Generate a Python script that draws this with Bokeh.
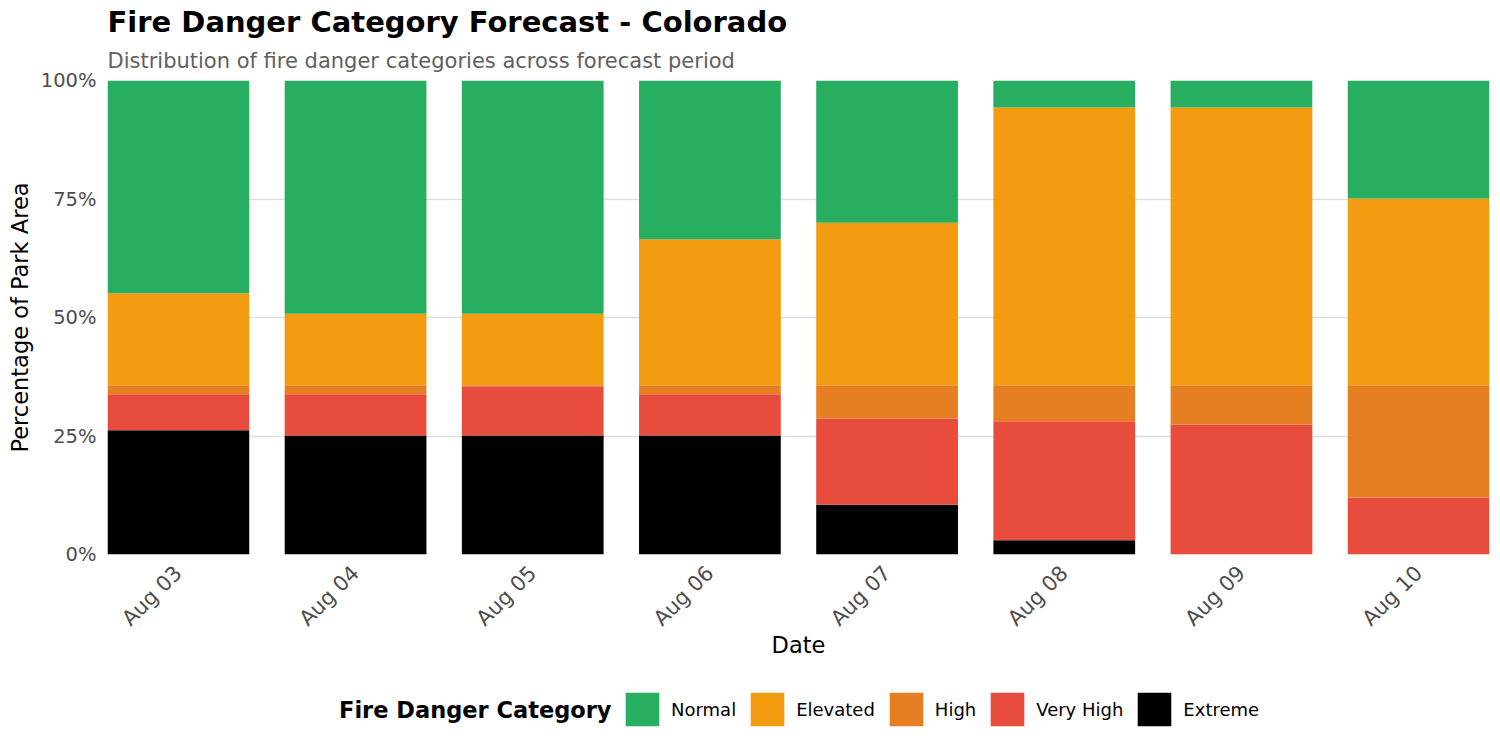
import math
from bokeh.plotting import figure
from bokeh.layouts import column
from bokeh.models import ColumnDataSource, Legend, LegendItem, Title, FixedTicker, Range1d, Label
from bokeh.embed import file_html
from bokeh.resources import INLINE

# Forecast data: percentage of park area in each fire danger category.
dates = ["Aug 03", "Aug 04", "Aug 05", "Aug 06", "Aug 07", "Aug 08", "Aug 09", "Aug 10"]
extreme = [26.2, 25.1, 25.1, 25.1, 10.5, 3.0, 0.0, 0.0]
very_high = [7.6, 8.7, 10.4, 8.7, 18.2, 25.1, 27.4, 12.0]
high = [1.9, 1.9, 0.2, 1.9, 7.0, 7.6, 8.3, 23.7]
elevated = [19.4, 15.1, 15.1, 30.8, 34.3, 58.6, 58.6, 39.4]
normal = [44.9, 49.2, 49.2, 33.5, 30.0, 5.7, 5.7, 24.9]

categories = ["Extreme", "Very High", "High", "Elevated", "Normal"]
colors = ["#000000", "#E74C3C", "#E67E22", "#F39C12", "#27AE60"]

source = ColumnDataSource(data=dict(
    x=list(range(1, len(dates) + 1)),
    Extreme=extreme,
    **{"Very High": very_high},
    High=high,
    Elevated=elevated,
    Normal=normal,
))

p = figure(width=1500, height=670, output_backend="svg", toolbar_location=None,
           x_range=Range1d(0.6, len(dates) + 0.4), y_range=Range1d(0, 100),
           title="Fire Danger Category Forecast - Colorado",
           x_axis_label="Date", y_axis_label="Percentage of Park Area")
p.min_border_left = 107
p.min_border_right = 11
p.min_border_bottom = 116
p.min_border_top = 80
p.outline_line_color = None

# Titles (main title on top, subtitle just above the plot)
p.title.text_font = "DejaVu Sans"
p.title.text_font_size = "29px"
p.title.text_font_style = "bold"
p.title.text_color = "#000000"
p.title.align = "left"
p.title.standoff = 0
p.add_layout(Title(text="Distribution of fire danger categories across forecast period",
                   text_font="DejaVu Sans", text_font_size="21px", text_font_style="normal",
                   text_color="#5f5f5f", align="left", standoff=16), "above")

renderers = p.vbar_stack(categories, x="x", width=0.8, source=source, color=colors,
                         line_color=None)

# Axes
p.xaxis.ticker = FixedTicker(ticks=list(range(1, len(dates) + 1)))
p.xaxis.major_label_overrides = {i + 1: d for i, d in enumerate(dates)}
p.xaxis.major_label_orientation = math.pi / 4
p.yaxis.ticker = FixedTicker(ticks=[0, 25, 50, 75, 100])
p.yaxis.major_label_overrides = {0: "0%", 25: "25%", 50: "50%", 75: "75%", 100: "100%"}
for ax in (p.xaxis, p.yaxis):
    ax.axis_line_color = None
    ax.major_tick_line_color = None
    ax.minor_tick_line_color = None
    ax.major_label_text_font = "DejaVu Sans"
    ax.major_label_text_font_size = "19.5px"
    ax.major_label_text_color = "#4d4d4d"
    ax.axis_label_text_font = "DejaVu Sans"
    ax.axis_label_text_font_size = "22.5px"
    ax.axis_label_text_font_style = "normal"
    ax.axis_label_text_color = "#000000"
p.xaxis.major_label_text_font_size = "21px"
p.xaxis.major_label_standoff = 9
p.xaxis.axis_label_standoff = -10

p.xgrid.grid_line_color = None
p.ygrid.grid_line_color = "#dedede"
p.ygrid.grid_line_width = 1.5

# Legend strip underneath the chart (its frame lines up with the chart's frame)
leg = figure(width=1500, height=80, output_backend="svg", toolbar_location=None,
             x_range=Range1d(107, 1489), y_range=Range1d(0, 80),
             x_axis_type=None, y_axis_type=None, title=None)
leg.min_border = 0
leg.outline_line_color = None

swatches = {c: leg.vbar(x=[-1000], top=[0], width=1, color=col, line_color=None)
            for c, col in zip(categories, colors)}
items = [LegendItem(label=c, renderers=[swatches[c]]) for c in categories[::-1]]
legend = Legend(items=items, orientation="horizontal", location=(514, 20))
legend.label_text_font = "DejaVu Sans"
legend.label_text_font_size = "18px"
legend.label_text_color = "#000000"
legend.glyph_width = 42
legend.glyph_height = 42
legend.label_standoff = 8
legend.spacing = 10
legend.padding = 0
legend.margin = 0
legend.border_line_color = None
legend.background_fill_alpha = 0
leg.add_layout(legend, "center")

leg.add_layout(Label(x=611, y=41, text="Fire Danger Category", text_align="right",
                     text_baseline="middle", text_font="DejaVu Sans", text_font_size="22.5px",
                     text_font_style="bold", text_color="#000000"))

open("out.html", "w").write(file_html(column(p, leg), INLINE))
